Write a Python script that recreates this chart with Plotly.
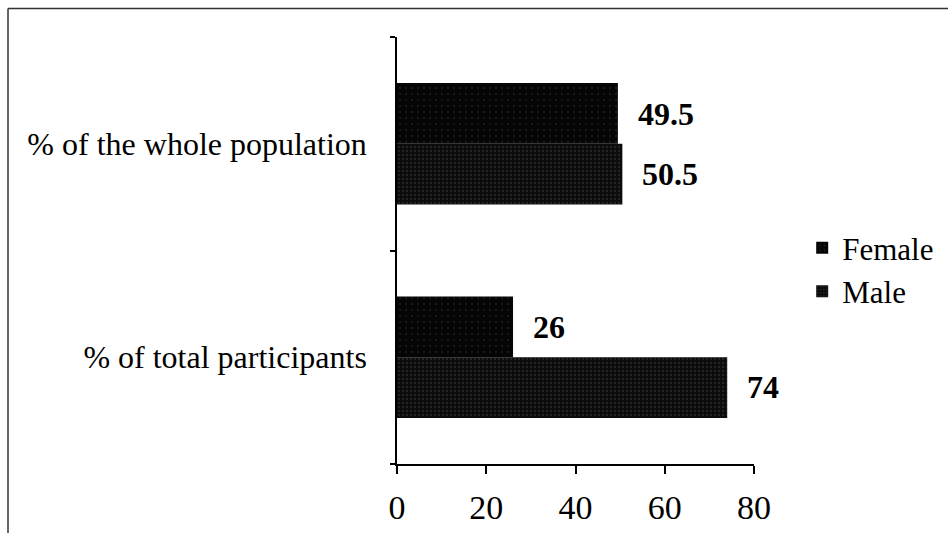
import plotly.graph_objects as go

# Categories in top-to-bottom order
categories = ["% of the whole population", "% of total participants"]
female = [49.5, 26]
male = [50.5, 74]
x_ticks = [0, 20, 40, 60, 80]

W, H = 948, 533
L, R, T, B = 397, 194, 37, 69
plot_w = W - L - R
plot_h = H - T - B

SERIF = "Liberation Serif, Times New Roman, serif"

fig = go.Figure()

# Male first so Female sits above it inside each group
fig.add_trace(go.Bar(
    name="Male", y=categories, x=male, orientation="h",
    marker=dict(color="#151515", line=dict(width=0),
                pattern=dict(shape=".", fgcolor="#7a7a7a", bgcolor="#0c0c0c",
                             size=4, solidity=0.12)),
))
fig.add_trace(go.Bar(
    name="Female", y=categories, x=female, orientation="h",
    marker=dict(color="#080808", line=dict(width=0),
                pattern=dict(shape=".", fgcolor="#5e5e5e", bgcolor="#050505",
                             size=6, solidity=0.06)),
))

# Value labels beside each bar end
for cat, f, m in zip(categories, female, male):
    for val, shift in ((f, 30), (m, -30)):
        fig.add_annotation(
            x=val, y=cat, xref="x", yref="y", text=f"<b>{val:g}</b>",
            showarrow=False, xanchor="left", yanchor="middle",
            xshift=18, yshift=shift,
            font=dict(family=SERIF, size=32, color="black"),
        )

# Frame around the chart (left and top edges)
xl = (8 - L) / plot_w
yt = (H - B - 8.5) / plot_h
frame = dict(color="#333333", width=1.5)
fig.add_shape(type="line", xref="paper", yref="paper",
              x0=xl, x1=xl, y0=-0.3, y1=yt, line=frame)
fig.add_shape(type="line", xref="paper", yref="paper",
              x0=xl, x1=1.7, y0=yt, y1=yt, line=frame)

fig.update_layout(
    width=W, height=H,
    margin=dict(l=L, r=R, t=T, b=B, pad=0, autoexpand=False),
    paper_bgcolor="white", plot_bgcolor="white",
    barmode="group", bargap=0.43, bargroupgap=0,
    font=dict(family=SERIF, color="black"),
    legend=dict(
        x=1.135, y=0.455, xanchor="left", yanchor="middle",
        traceorder="reversed", font=dict(family=SERIF, size=31, color="black"),
        bgcolor="rgba(0,0,0,0)", itemwidth=30, tracegroupgap=0,
    ),
    xaxis=dict(
        range=[0, 80], tickvals=x_ticks, showgrid=False, zeroline=False,
        showline=True, linecolor="black", linewidth=1.5,
        ticks="outside", ticklen=8, tickcolor="black", tickwidth=1.5,
        ticklabelstandoff=4,
        tickfont=dict(family=SERIF, size=34, color="black"),
    ),
    yaxis=dict(
        categoryorder="array", categoryarray=categories[::-1],
        showgrid=False, zeroline=False,
        showline=True, linecolor="black", linewidth=1.5,
        ticks="outside", ticklen=5, tickcolor="black", tickwidth=1.5,
        tickson="boundaries", ticklabelstandoff=22,
        tickfont=dict(family=SERIF, size=32, color="black"),
    ),
)

fig.write_html("out.html")
